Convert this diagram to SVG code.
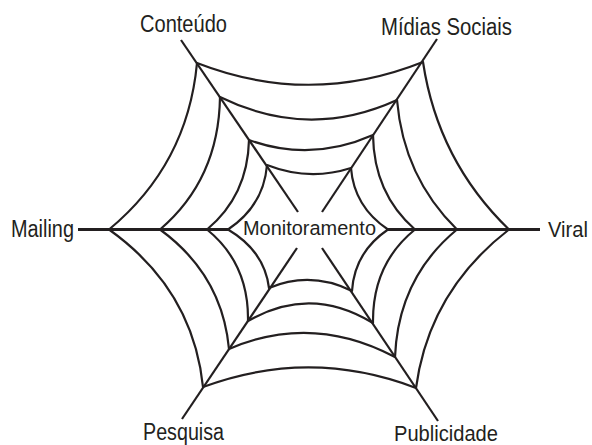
<svg xmlns="http://www.w3.org/2000/svg" width="592" height="445" viewBox="0 0 592 445">
  <style>
    .bg { fill: #ffffff; }
    .lbl { font-family: "Liberation Sans", Arial, Helvetica, sans-serif; font-size: 23px; fill: #231f20; }
    .center { font-family: "Liberation Sans", Arial, Helvetica, sans-serif; font-size: 20.5px; fill: #231f20; }
    .spoke { fill: none; stroke: #231f20; stroke-width: 2.2; stroke-linecap: butt; }
    .axis { fill: none; stroke: #231f20; stroke-width: 3; stroke-linecap: butt; }
    .ring { fill: none; stroke: #231f20; stroke-width: 2.2; stroke-linejoin: round; }
  </style>
  <rect class="bg" x="0" y="0" width="592" height="445"/>

  <g id="connectors">
    <!-- spokes -->
    <line class="axis" x1="78" y1="229.5" x2="228" y2="229.5"/>
    <line class="axis" x1="388" y1="229.5" x2="540" y2="229.5"/>
    <line class="spoke" x1="181" y1="40" x2="298" y2="212"/>
    <line class="spoke" x1="437" y1="39" x2="322" y2="212"/>
    <line class="spoke" x1="182" y1="419" x2="297" y2="248"/>
    <line class="spoke" x1="438" y1="421" x2="322" y2="248"/>
    <!-- web rings -->
    <path class="ring" d="M197,63 Q310,107 423,62 Q437.9,160.8 509,229.5 Q429,291.3 416,388 Q310,347.4 203,387 Q193,289.4 109,229.5 Q187.5,164.6 197,63 Z"/>
    <path class="ring" d="M220,97 Q308.5,140.5 397,100 Q403.6,177.2 457,229.5 Q398.2,278 395,357 Q312,313 229,349 Q222.2,274.9 160,229.5 Q218.8,179.2 220,97 Z"/>
    <path class="ring" d="M249,140 Q311,162.5 373,135 Q373.8,193.6 415,229.5 Q372.2,264.1 373,323 Q310.5,284.6 248,321 Q248.9,263.4 207,229.5 Q247.7,195.5 249,140 Z"/>
    <path class="ring" d="M267,165 Q309,181.5 351,168 Q354,206.7 388,229.5 Q354.4,252.3 352,291 Q310.5,270.5 269,288 Q264.5,251.1 228,229.5 Q263.75,205.6 267,165 Z"/>
  </g>

  <g id="node-monitoramento">
    <text class="center" x="243" y="235" textLength="133" lengthAdjust="spacingAndGlyphs">Monitoramento</text>
  </g>
  <g id="node-conteudo">
    <text class="lbl" x="140" y="32" textLength="87" lengthAdjust="spacingAndGlyphs">Conteúdo</text>
  </g>
  <g id="node-midias-sociais">
    <text class="lbl" x="381" y="35" textLength="131" lengthAdjust="spacingAndGlyphs">Mídias Sociais</text>
  </g>
  <g id="node-mailing">
    <text class="lbl" x="11" y="237" textLength="63" lengthAdjust="spacingAndGlyphs">Mailing</text>
  </g>
  <g id="node-viral">
    <text class="lbl" x="548" y="237" style="font-size:21.5px" textLength="40" lengthAdjust="spacingAndGlyphs">Viral</text>
  </g>
  <g id="node-pesquisa">
    <text class="lbl" x="143" y="440" textLength="81" lengthAdjust="spacingAndGlyphs">Pesquisa</text>
  </g>
  <g id="node-publicidade">
    <text class="lbl" x="394" y="440.5" style="font-size:22.5px" textLength="104" lengthAdjust="spacingAndGlyphs">Publicidade</text>
  </g>
</svg>
